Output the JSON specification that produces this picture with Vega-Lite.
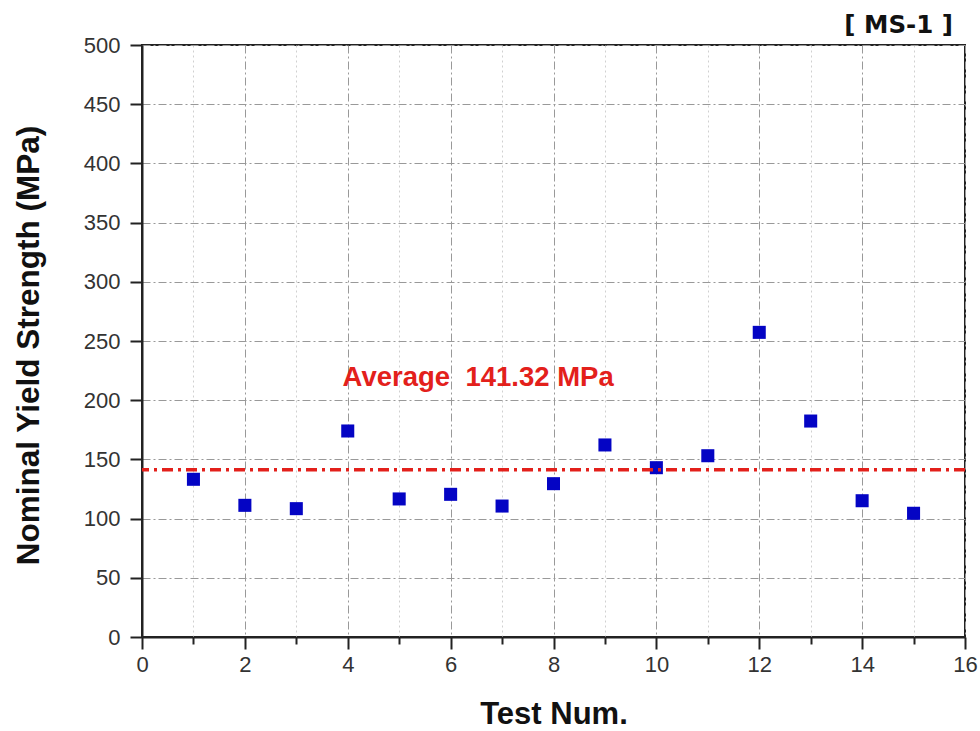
{
  "$schema": "https://vega.github.io/schema/vega-lite/v6.json",
  "width": 823,
  "height": 592,
  "autosize": {"type": "none"},
  "padding": {"left": 142, "top": 45, "right": 15, "bottom": 94},
  "background": "white",
  "config": {
    "font": "Liberation Sans",
    "view": {"stroke": "#222", "strokeWidth": 2}
  },
  "title": {
    "text": "[ MS-1 ]",
    "anchor": "end",
    "frame": "group",
    "fontSize": 24.5,
    "fontWeight": "bold",
    "font": "DejaVu Sans",
    "color": "#111",
    "baseline": "bottom",
    "offset": 0,
    "dy": 28,
    "dx": -12
  },
  "layer": [
    {
      "data": {
        "values": [
          {"test": 1, "strength": 133.2},
          {"test": 2, "strength": 111.2},
          {"test": 3, "strength": 108.4},
          {"test": 4, "strength": 174.0},
          {"test": 5, "strength": 116.6},
          {"test": 6, "strength": 120.5},
          {"test": 7, "strength": 110.6},
          {"test": 8, "strength": 129.5},
          {"test": 9, "strength": 162.2},
          {"test": 10, "strength": 143.0},
          {"test": 11, "strength": 153.1},
          {"test": 12, "strength": 257.3},
          {"test": 13, "strength": 182.4},
          {"test": 14, "strength": 115.1},
          {"test": 15, "strength": 104.5}
        ]
      },
      "mark": {"type": "point", "shape": "square", "filled": true, "size": 170, "color": "#0404c4", "opacity": 1},
      "encoding": {
        "x": {
          "field": "test",
          "type": "quantitative",
          "scale": {"domain": [0, 16], "nice": false, "zero": false},
          "axis": {
            "values": [0,1,2,3,4,5,6,7,8,9,10,11,12,13,14,15,16],
            "labelExpr": "datum.value % 2 === 0 ? datum.label : ''",
            "labelFontSize": 22,
            "labelColor": "#333",
            "labelPadding": 5,
            "labelFlush": false,
            "domainColor": "#222",
            "domainWidth": 2,
            "tickColor": "#222",
            "tickWidth": 2,
            "tickSize": {"condition": {"test": "datum.value % 2 === 0", "value": 12}, "value": 7},
            "grid": true,
            "gridColor": {"condition": {"test": "datum.value % 2 === 0", "value": "#999999"}, "value": "#d0d0d0"},
            "gridDash": {"condition": {"test": "datum.value % 2 === 0", "value": [8, 3, 2, 3]}, "value": [2, 3]},
            "gridWidth": 1,
            "title": "Test Num.",
            "titleFontSize": 31,
            "titleFontWeight": "bold",
            "titleColor": "#111",
            "titleBaseline": "alphabetic",
            "titleX": 411.5,
            "titleY": 86
          }
        },
        "y": {
          "field": "strength",
          "type": "quantitative",
          "scale": {"domain": [0, 500], "nice": false},
          "axis": {
            "values": [0,25,50,75,100,125,150,175,200,225,250,275,300,325,350,375,400,425,450,475,500],
            "labelExpr": "datum.value % 50 === 0 ? datum.label : ''",
            "labelFontSize": 22,
            "labelColor": "#333",
            "labelPadding": 10,
            "labelFlush": false,
            "domainColor": "#222",
            "domainWidth": 2,
            "tickColor": "#222",
            "tickWidth": 2,
            "tickSize": {"condition": {"test": "datum.value % 50 === 0", "value": 12}, "value": 8},
            "grid": true,
            "gridColor": {"condition": {"test": "datum.value % 50 === 0", "value": "#999999"}, "value": "#d0d0d0"},
            "gridDash": {"condition": {"test": "datum.value % 50 === 0", "value": [8, 3, 2, 3]}, "value": [2, 3]},
            "gridWidth": 1,
            "title": "Nominal Yield Strength (MPa)",
            "titleFontSize": 31.5,
            "titleFontWeight": "bold",
            "titleColor": "#111",
            "titleAngle": -90,
            "titleAlign": "center",
            "titleBaseline": "alphabetic",
            "titleX": -104,
            "titleY": 300
          }
        }
      }
    },
    {
      "data": {"values": [{"average": 141.32, "label": "Average\u00a0 141.32 MPa"}]},
      "layer": [
        {
          "mark": {"type": "rule", "color": "#e3201b", "strokeWidth": 3.5, "strokeDash": [11, 5, 3, 5]},
          "encoding": {"y": {"field": "average", "type": "quantitative"}}
        },
        {
          "mark": {"type": "text", "align": "left", "baseline": "alphabetic", "fontSize": 27.5, "fontWeight": "bold", "color": "#e3201b"},
          "encoding": {
            "x": {"datum": 3.9, "type": "quantitative"},
            "y": {"datum": 212, "type": "quantitative"},
            "text": {"field": "label"}
          }
        }
      ]
    }
  ]
}
